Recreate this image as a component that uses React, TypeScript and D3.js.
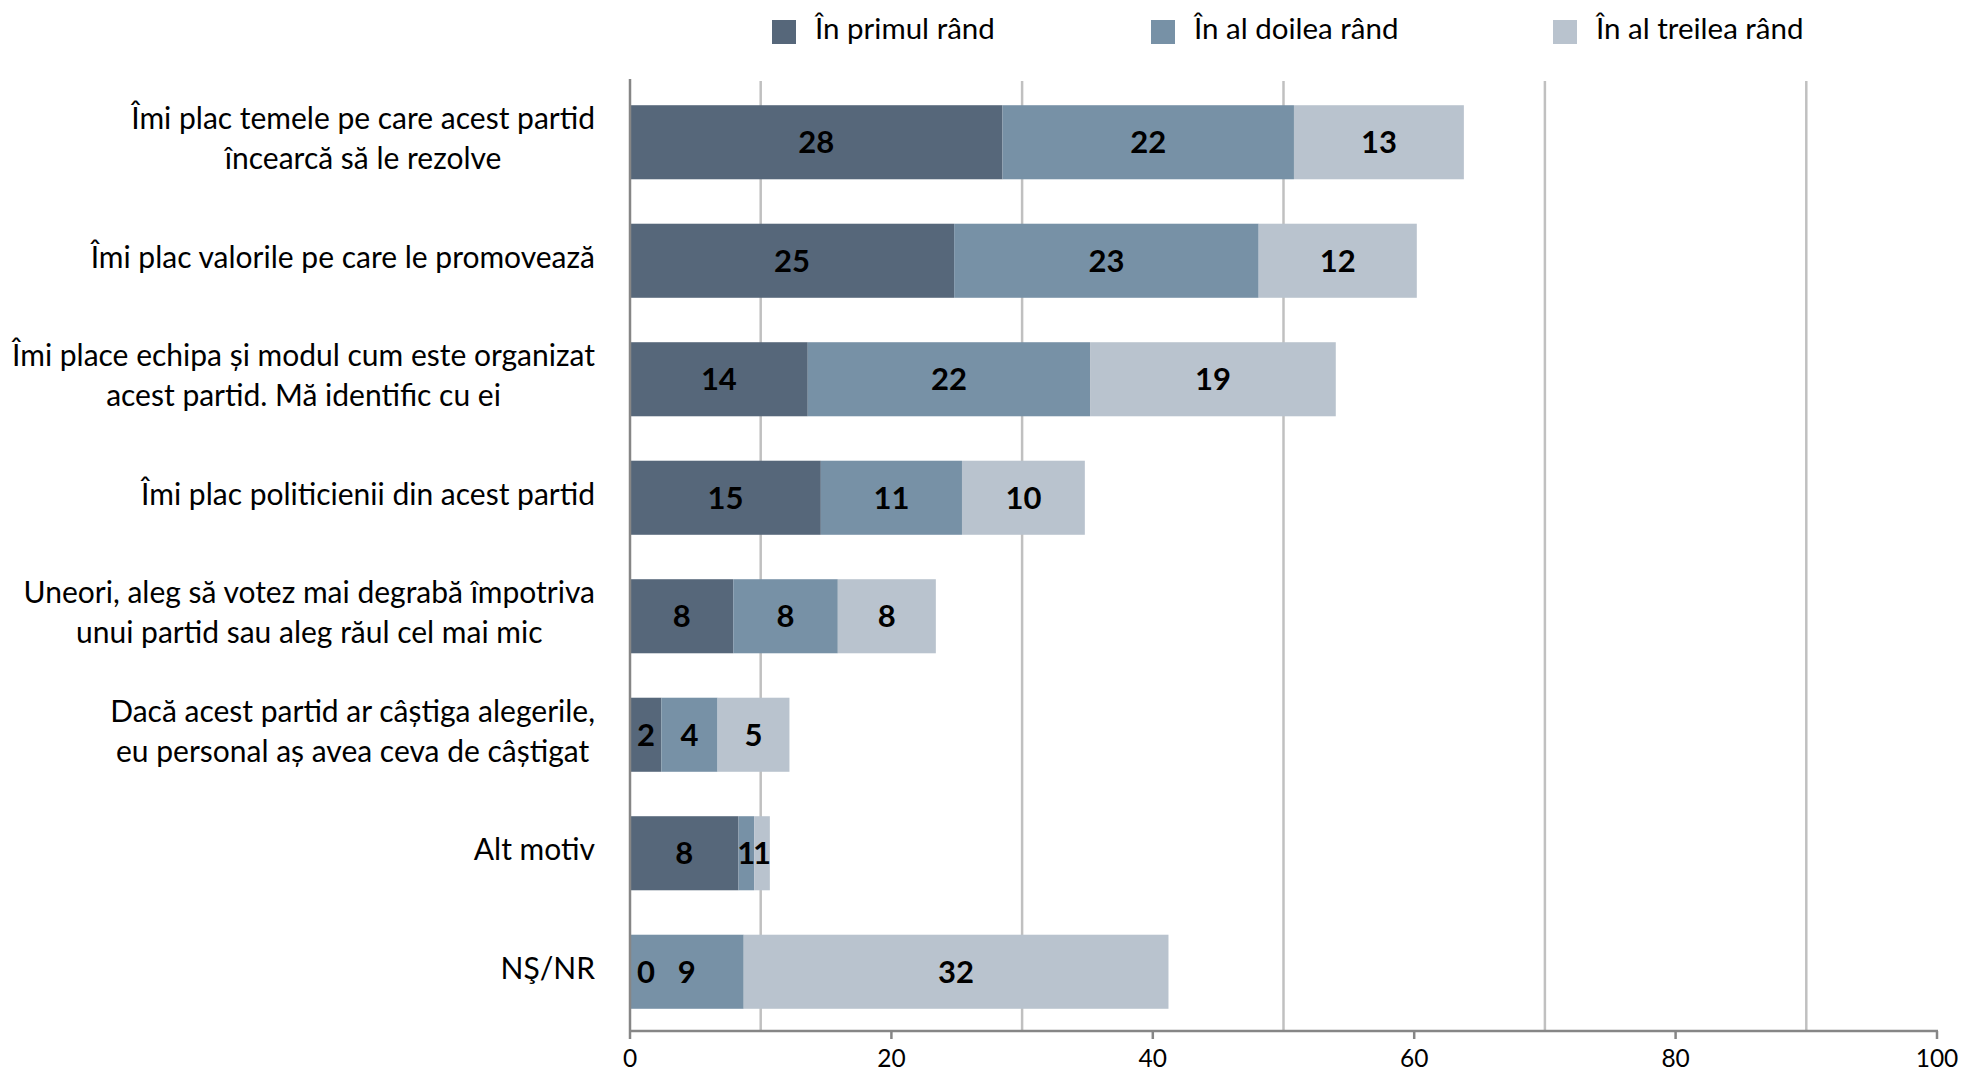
import React, { useEffect, useRef } from "react";
import * as d3 from "d3";

const categories = [
  "Îmi plac temele pe care acest partid\nîncearcă să le rezolve",
  "Îmi plac valorile pe care le promovează",
  "Îmi place echipa și modul cum este organizat\nacest partid. Mă identific cu ei",
  "Îmi plac politicienii din acest partid",
  "Uneori, aleg să votez mai degrabă împotriva\nunui partid sau aleg răul cel mai mic",
  "Dacă acest partid ar câștiga alegerile,\neu personal aș avea ceva de câștigat",
  "Alt motiv",
  "NŞ/NR",
];

const seriesNames = ["În primul rând", "În al doilea rând", "În al treilea rând"];

const primulValues = [28.5, 24.8, 13.6, 14.6, 7.9, 2.4, 8.3, 0];
const doileaValues = [22.3, 23.3, 21.6, 10.8, 8.0, 4.3, 1.2, 8.7];
const treileaValues = [13.0, 12.1, 18.8, 9.4, 7.5, 5.5, 1.2, 32.5];

const primulLabels = [28, 25, 14, 15, 8, 2, 8, 0];
const doileaLabels = [22, 23, 22, 11, 8, 4, 1, 9];
const treileaLabels = [13, 12, 19, 10, 8, 5, 1, 32];

const axisTicks = [0, 20, 40, 60, 80, 100];
const gridValues = [10, 30, 50, 70, 90];

const colors = ["#56677a", "#7791a6", "#b9c3ce"];
const FONT = "Lato, 'Open Sans', sans-serif";

export default function App() {
  const ref = useRef<SVGSVGElement | null>(null);

  useEffect(() => {
    const svg = d3.select(ref.current);
    svg.selectAll("*").remove();

    const x = d3.scaleLinear().domain([0, 100]).range([630, 1937]);
    const y = d3
      .scaleBand<string>()
      .domain(categories)
      .range([83, 1031])
      .paddingInner(0.375)
      .paddingOuter(0.1875);

    const plotTop = 81;
    const plotBottom = 1031;

    // gridlines
    svg
      .append("g")
      .selectAll("line")
      .data(gridValues)
      .join("line")
      .attr("x1", (d) => x(d))
      .attr("x2", (d) => x(d))
      .attr("y1", plotTop)
      .attr("y2", plotBottom)
      .attr("stroke", "#c0c0c0")
      .attr("stroke-width", 2.5);

    const series = [primulValues, doileaValues, treileaValues];
    const labels = [primulLabels, doileaLabels, treileaLabels];

    const stacked = categories.map((c, i) => {
      let acc = 0;
      return series.map((s, k) => {
        const x0 = acc;
        acc += s[i];
        return { cat: c, k, x0, x1: acc, label: labels[k][i] };
      });
    });

    const gBars = svg.append("g");
    stacked.forEach((segs) => {
      segs.forEach((s) => {
        gBars
          .append("rect")
          .attr("x", x(s.x0))
          .attr("y", y(s.cat)!)
          .attr("width", Math.max(0, x(s.x1) - x(s.x0)))
          .attr("height", y.bandwidth())
          .attr("fill", colors[s.k]);
      });
    });

    // data labels
    const gLab = svg.append("g");
    stacked.forEach((segs) => {
      segs.forEach((s) => {
        const cx = Math.max((x(s.x0) + x(s.x1)) / 2, x(0) + 16);
        gLab
          .append("text")
          .attr("x", cx)
          .attr("y", y(s.cat)! + y.bandwidth() / 2)
          .attr("dy", "0.36em")
          .attr("text-anchor", "middle")
          .attr("font-family", FONT)
          .attr("font-weight", 700)
          .attr("font-size", 31)
          .attr("fill", "#000")
          .text(String(s.label));
      });
    });

    // axes lines
    svg
      .append("line")
      .attr("x1", x(0))
      .attr("x2", x(0))
      .attr("y1", plotTop - 2)
      .attr("y2", plotBottom)
      .attr("stroke", "#868686")
      .attr("stroke-width", 2.5);
    svg
      .append("line")
      .attr("x1", x(0) - 1)
      .attr("x2", x(100) + 1)
      .attr("y1", plotBottom)
      .attr("y2", plotBottom)
      .attr("stroke", "#868686")
      .attr("stroke-width", 2.5);

    const gTicks = svg.append("g");
    axisTicks.forEach((t) => {
      gTicks
        .append("line")
        .attr("x1", x(t))
        .attr("x2", x(t))
        .attr("y1", plotBottom)
        .attr("y2", plotBottom + 8)
        .attr("stroke", "#868686")
        .attr("stroke-width", 2.5);
      gTicks
        .append("text")
        .attr("x", x(t))
        .attr("y", 1067)
        .attr("text-anchor", "middle")
        .attr("font-family", FONT)
        .attr("font-size", 24.5)
        .attr("fill", "#000")
        .text(String(t));
    });

    // category labels
    const gCat = svg.append("g");
    const rightEdge = 595;
    categories.forEach((c) => {
      const lines = c.split("\n");
      const center = y(c)! + y.bandwidth() / 2;
      const texts = lines.map((ln, i) =>
        gCat
          .append("text")
          .attr("y", center + 7 + (i - (lines.length - 1) / 2) * 40)
          .attr("text-anchor", "middle")
          .attr("font-family", FONT)
          .attr("font-size", 30)
          .attr("fill", "#000")
          .text(ln)
      );
      const widths = texts.map((t) => (t.node() as SVGTextElement).getComputedTextLength());
      const maxW = d3.max(widths) || 0;
      texts.forEach((t) => t.attr("x", rightEdge - maxW / 2));
    });

    // legend
    const legendX = [772, 1151, 1553];
    const gLeg = svg.append("g");
    seriesNames.forEach((name, k) => {
      gLeg
        .append("rect")
        .attr("x", legendX[k])
        .attr("y", 20)
        .attr("width", 24)
        .attr("height", 24)
        .attr("fill", colors[k]);
      gLeg
        .append("text")
        .attr("x", legendX[k] + 43)
        .attr("y", 39)
        .attr("font-family", FONT)
        .attr("font-size", 29.5)
        .attr("fill", "#000")
        .text(name);
    });
  }, []);

  return (
    <div style={{ position: "absolute", left: 0, top: 0 }}>
      <svg ref={ref} width={1964} height={1073} style={{ display: "block", background: "#fff" }} />
    </div>
  );
}
